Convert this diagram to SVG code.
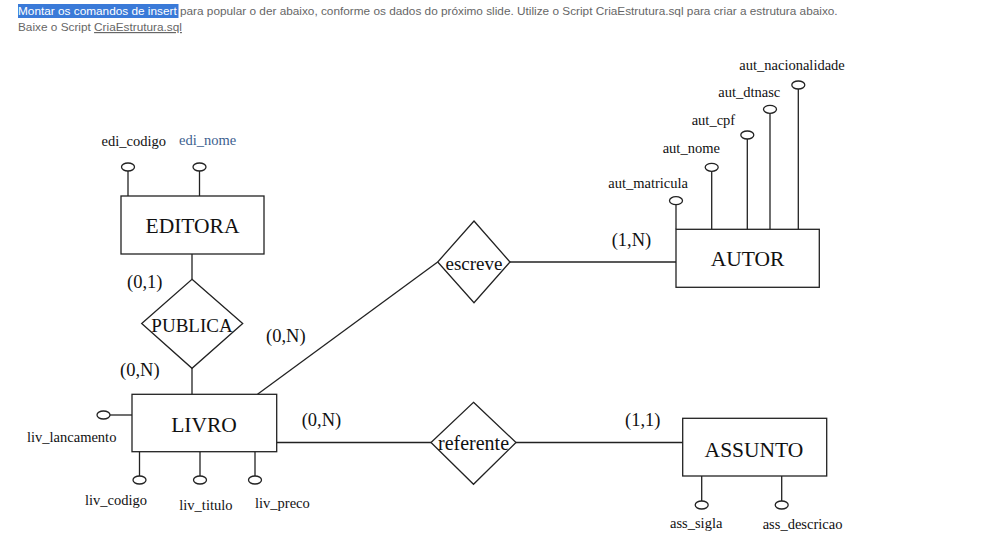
<svg xmlns="http://www.w3.org/2000/svg" width="1000" height="537" viewBox="0 0 1000 537">
<style>
.hdr{font-family:"Liberation Sans",Arial,sans-serif;font-size:11.8px;fill:#666}
.ln{stroke:#222;stroke-width:1.3;fill:none}
.box{stroke:#222;stroke-width:1.3;fill:#fff}
.att{stroke:#222;stroke-width:1.3;fill:#fff}
.ent{font-family:"Liberation Serif","Times New Roman",serif;font-size:21.5px;fill:#111;text-anchor:middle}
.rel{font-family:"Liberation Serif","Times New Roman",serif;font-size:19px;fill:#111;text-anchor:middle}
.card{font-family:"Liberation Serif","Times New Roman",serif;font-size:18.5px;fill:#111}
.lab{font-family:"Liberation Serif","Times New Roman",serif;font-size:14.5px;fill:#111}
</style>
<rect width="1000" height="537" fill="#fff"/>
<rect x="18" y="4" width="160.5" height="14" fill="#3a7ad8"/>
<text class="hdr" x="18" y="15"><tspan fill="#fff">Montar os comandos de insert</tspan> para popular o der abaixo, conforme os dados do próximo slide. Utilize o Script CriaEstrutura.sql para criar a estrutura abaixo.</text>
<text class="hdr" x="18" y="31">Baixe o Script <tspan text-decoration="underline">CriaEstrutura.sql</tspan></text>

<g id="connectors">
<line class="ln" x1="192" y1="254" x2="192" y2="279"/>
<line class="ln" x1="192" y1="368" x2="192" y2="394"/>
<line class="ln" x1="257.5" y1="394.3" x2="437.7" y2="262"/>
<line class="ln" x1="510" y1="262" x2="676" y2="262"/>
<line class="ln" x1="276.7" y1="442.5" x2="431" y2="442.5"/>
<line class="ln" x1="516" y1="442.5" x2="683" y2="442.5"/>
</g>

<g id="editora">
<line class="ln" x1="128" y1="171" x2="128" y2="196"/>
<ellipse class="att" cx="128" cy="167" rx="6.5" ry="4"/>
<line class="ln" x1="199.5" y1="171" x2="199.5" y2="196"/>
<ellipse class="att" cx="199.5" cy="167" rx="6.5" ry="4"/>
<text class="lab" x="101.5" y="146">edi_codigo</text>
<text class="lab" x="179" y="145" style="fill:#3d5f8f">edi_nome</text>
<rect class="box" x="121" y="196" width="143" height="58"/>
<text class="ent" x="192.5" y="232.7">EDITORA</text>
</g>

<g id="publica">
<polygon class="box" points="192,279.3 242.7,323.5 192,368.3 141.7,323.5"/>
<text class="rel" x="192" y="331.5">PUBLICA</text>
<text class="card" x="127" y="288">(0,1)</text>
<text class="card" x="120" y="376">(0,N)</text>
</g>

<g id="livro">
<line class="ln" x1="110" y1="415" x2="132" y2="415"/>
<ellipse class="att" cx="103.5" cy="415" rx="6.5" ry="4"/>
<line class="ln" x1="139.5" y1="451.7" x2="139.5" y2="476"/>
<ellipse class="att" cx="139.5" cy="480" rx="6.5" ry="4"/>
<line class="ln" x1="200" y1="451.7" x2="200" y2="476"/>
<ellipse class="att" cx="200" cy="480" rx="6.5" ry="4"/>
<line class="ln" x1="255" y1="451.7" x2="255" y2="476"/>
<ellipse class="att" cx="255" cy="480" rx="6.5" ry="4"/>
<rect class="box" x="132" y="394.3" width="144.7" height="57.4"/>
<text class="ent" x="204" y="431.5">LIVRO</text>
<text class="lab" x="27" y="442">liv_lancamento</text>
<text class="lab" x="85" y="505">liv_codigo</text>
<text class="lab" x="179.3" y="510">liv_titulo</text>
<text class="lab" x="255" y="508">liv_preco</text>
<text class="card" x="266" y="342">(0,N)</text>
<text class="card" x="301.7" y="426">(0,N)</text>
</g>

<g id="escreve">
<polygon class="box" points="474,221 510,262 474,302.7 437.7,262"/>
<text class="rel" x="474" y="269.5">escreve</text>
</g>

<g id="autor">
<line class="ln" x1="676" y1="204.7" x2="676" y2="229.3"/>
<ellipse class="att" cx="676" cy="200.7" rx="6.5" ry="4"/>
<line class="ln" x1="711.7" y1="171.3" x2="711.7" y2="229.3"/>
<ellipse class="att" cx="711.7" cy="167.3" rx="6.5" ry="4"/>
<line class="ln" x1="747.3" y1="139" x2="747.3" y2="229.3"/>
<ellipse class="att" cx="747.3" cy="135" rx="6.5" ry="4"/>
<line class="ln" x1="770" y1="113.3" x2="770" y2="229.3"/>
<ellipse class="att" cx="770" cy="109.3" rx="6.5" ry="4"/>
<line class="ln" x1="798.3" y1="89" x2="798.3" y2="229.3"/>
<ellipse class="att" cx="798.3" cy="85" rx="6.5" ry="4"/>
<text class="lab" x="608.3" y="188">aut_matricula</text>
<text class="lab" x="662.7" y="152.5">aut_nome</text>
<text class="lab" x="691.7" y="124.5">aut_cpf</text>
<text class="lab" x="718.3" y="96.5">aut_dtnasc</text>
<text class="lab" x="739.3" y="70">aut_nacionalidade</text>
<rect class="box" x="676" y="229.3" width="143.3" height="58"/>
<text class="ent" x="747.5" y="266">AUTOR</text>
<text class="card" x="611.7" y="246">(1,N)</text>
</g>

<g id="referente">
<polygon class="box" points="473.5,402.3 516,442.5 473.5,484.3 431,442.5"/>
<text class="rel" x="473.5" y="450" style="font-size:20px">referente</text>
<text class="card" x="625" y="426">(1,1)</text>
</g>

<g id="assunto">
<line class="ln" x1="701.7" y1="476" x2="701.7" y2="501"/>
<ellipse class="att" cx="701.7" cy="505" rx="6.5" ry="4"/>
<line class="ln" x1="781.7" y1="476" x2="781.7" y2="501"/>
<ellipse class="att" cx="781.7" cy="505" rx="6.5" ry="4"/>
<rect class="box" x="682.7" y="418.3" width="144" height="57.7"/>
<text class="ent" x="754" y="456.5">ASSUNTO</text>
<text class="lab" x="670" y="528">ass_sigla</text>
<text class="lab" x="762.7" y="529">ass_descricao</text>
</g>
</svg>
